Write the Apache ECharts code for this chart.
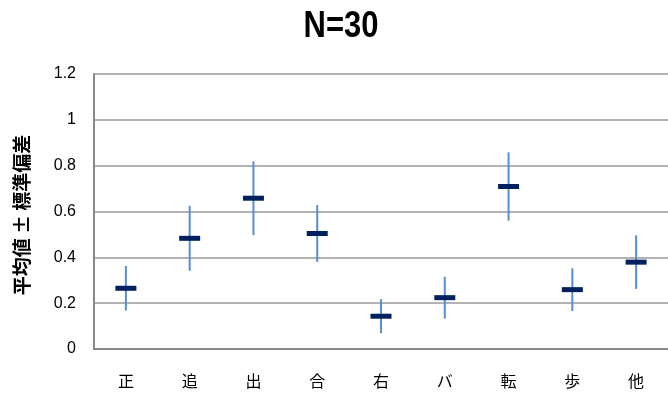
<!DOCTYPE html>
<html><head><meta charset="utf-8">
<script src="https://cdn.jsdelivr.net/npm/echarts@6/dist/echarts.min.js"></script>
<style>html,body{margin:0;padding:0;background:#fff}#c{width:668px;height:393px}</style>
</head><body><div id="c"></div>
<script>
const categories = ['正','追','出','合','右','バ','転','歩','他'];
const means = [0.265, 0.483, 0.658, 0.504, 0.143, 0.224, 0.709, 0.259, 0.379];
const sds   = [0.097, 0.142, 0.161, 0.124, 0.074, 0.091, 0.149, 0.093, 0.117];
const yTicks = [0, 0.2, 0.4, 0.6, 0.8, 1, 1.2];
const titleText = 'N=30';
const yName = '平均値 ± 標準偏差';

const chart = echarts.init(document.getElementById('c'));
const errData = means.map((m, i) => [i, m - sds[i], m + sds[i]]);
chart.setOption({
  animation: false,
  graphic: [
    {
      type: 'text', x: 341, y: 27, scaleX: 0.86, originX: 0, originY: 0,
      style: {text: titleText, fontFamily: 'Liberation Sans, Arial, sans-serif', fontWeight: 'bold',
        fontSize: 36, fill: '#000', align: 'center', verticalAlign: 'middle'}
    },
    {
      type: 'text', x: 22, y: 215, rotation: Math.PI / 2,
      style: {text: yName, fontFamily: 'Noto Sans CJK JP, sans-serif', fontWeight: 'bold',
        fontSize: 19, fill: '#000', align: 'center', verticalAlign: 'middle'}
    }
  ],
  grid: {left: 94, top: 74, width: 576, height: 275},
  xAxis: {
    type: 'category', data: categories,
    axisLine: {lineStyle: {color: '#888', width: 2}},
    axisTick: {show: false},
    axisLabel: {margin: 24, fontSize: 16, color: '#000', fontFamily: 'Noto Sans CJK JP, sans-serif'}
  },
  yAxis: {
    type: 'value', min: 0, max: 1.2, interval: 0.2,
    axisLine: {show: true, lineStyle: {color: '#888', width: 2}},
    axisTick: {show: false},
    axisLabel: {margin: 18, fontSize: 16, color: '#000', fontFamily: 'Liberation Sans, Arial, sans-serif',
      formatter: v => { const t = yTicks.find(x => Math.abs(x - v) < 1e-9); return t === undefined ? '' : String(t); }},
    splitLine: {lineStyle: {color: '#999', width: 1.5}}
  },
  series: [
    {
      type: 'custom', z: 2,
      renderItem: (params, api) => {
        const lo = api.coord([api.value(0), api.value(1)]);
        const hi = api.coord([api.value(0), api.value(2)]);
        return {type: 'line', shape: {x1: lo[0], y1: lo[1], x2: hi[0], y2: hi[1]},
          style: {stroke: '#558ED5', lineWidth: 2}};
      },
      encode: {x: 0, y: [1, 2]},
      data: errData
    },
    {
      type: 'scatter', z: 3, symbol: 'rect', symbolSize: [21, 5],
      itemStyle: {color: '#002060', opacity: 1},
      data: means
    }
  ]
});
</script></body></html>
